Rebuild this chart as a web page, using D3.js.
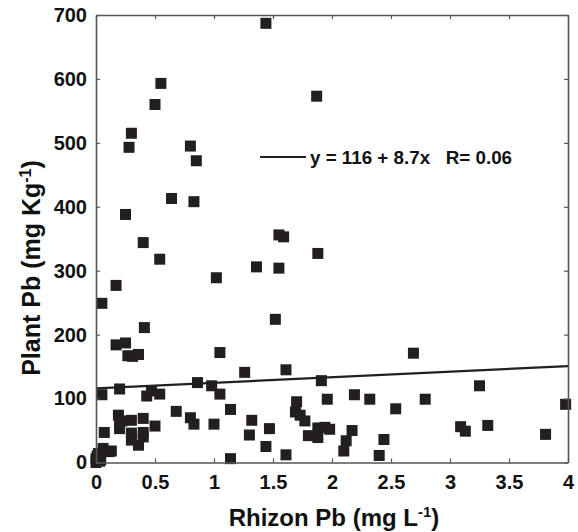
<!DOCTYPE html>
<html><head><meta charset="utf-8">
<script src="https://cdn.jsdelivr.net/npm/d3@7"></script>
<style>body{margin:0;background:#fff}svg{display:block}</style>
</head><body>
<script>
const rhizonPb = [1.44,0.55,0.50,1.87,0.30,0.28,0.80,0.85,0.64,0.83,0.25,0.40,1.55,1.59,0.54,1.88,0.17,1.36,1.55,1.02,
  0.05,1.52,0.41,0.17,0.25,1.05,0.27,0.31,0.36,1.61,1.26,0.86,1.91,0.20,0.98,0.05,0.43,0.47,0.54,1.05,
  1.96,1.70,1.14,0.68,0.19,1.69,1.73,1.77,0.80,0.83,0.22,0.30,0.40,0.20,0.50,1.32,1.00,1.47,0.40,0.40,
  0.30,0.30,0.36,0.07,1.30,1.44,1.61,1.14,1.80,1.88,1.88,1.94,1.98,0.13,2.69,3.25,2.19,2.32,2.79,2.54,
  3.98,2.17,2.12,2.10,2.44,2.40,3.09,3.13,3.32,3.81,0.00,0.02,0.06,0.11,0.00,0.04,0.01,0.03,0.20];
const plantPb = [687,593,560,573,515,493,495,472,413,408,388,344,356,353,318,327,277,306,304,289,
  249,224,211,184,187,172,167,166,169,145,141,125,128,115,120,106,104,112,107,107,
  99,95,83,80,74,79,74,65,70,60,65,66,69,53,57,66,60,53,47,40,
  46,35,27,47,43,25,12,6,42,54,39,55,52,18,171,120,106,99,99,84,
  91,50,34,18,36,11,56,49,58,44,0,14,22,17,6,4,10,2,61];
const xTicks = [0,0.5,1,1.5,2,2.5,3,3.5,4];
const xTickLabels = ["0","0.5","1","1.5","2","2.5","3","3.5","4"];
const yTicks = [0,100,200,300,400,500,600,700];
const fit = {intercept:116, slope:8.7, label:"y = 116 + 8.7x   R= 0.06"};

const W=578,H=532, L=96, R=568, T=15, B=462.5;
const font="'Liberation Sans',Arial,sans-serif";
const svg=d3.select("body").append("svg").attr("width",W).attr("height",H)
  .style("font-family",font).style("font-weight","bold");
const x=d3.scaleLinear().domain([0,4]).range([L,R]);
const y=d3.scaleLinear().domain([0,700]).range([B,T]);
const ink="#231f20";

// points
svg.append("g").selectAll("rect").data(rhizonPb.map((v,i)=>[v,plantPb[i]])).join("rect")
  .attr("x",d=>x(d[0])-5.5).attr("y",d=>y(d[1])-5.5).attr("width",11).attr("height",11).attr("fill",ink);

// regression line
svg.append("line").attr("x1",x(0)).attr("x2",x(4))
  .attr("y1",y(fit.intercept)).attr("y2",y(fit.intercept+fit.slope*4))
  .attr("stroke",ink).attr("stroke-width",2.2);

// axes
const fmt=d=>xTickLabels[xTicks.indexOf(d)];
const gx=svg.append("g").attr("transform",`translate(0,${B})`)
  .call(d3.axisBottom(x).tickValues(xTicks).tickFormat(fmt).tickSizeInner(-4).tickSizeOuter(0).tickPadding(12));
const gxt=svg.append("g").attr("transform",`translate(0,${T})`)
  .call(d3.axisTop(x).tickValues(xTicks).tickFormat("").tickSizeInner(-4).tickSizeOuter(0));
const gy=svg.append("g").attr("transform",`translate(${L},0)`)
  .call(d3.axisLeft(y).tickValues(yTicks).tickSizeInner(-4).tickSizeOuter(0).tickPadding(9));
const gyr=svg.append("g").attr("transform",`translate(${R},0)`)
  .call(d3.axisRight(y).tickValues(yTicks).tickFormat("").tickSizeInner(-4).tickSizeOuter(0));
[gx,gxt,gy,gyr].forEach(g=>{
  g.select(".domain").attr("stroke","#555").attr("stroke-width",1.6);
  g.selectAll(".tick line").attr("stroke","#555").attr("stroke-width",1.2);
  g.selectAll("text").attr("fill","#111").style("font-size","20px").style("font-weight","bold")
   .style("font-family",font);
});

// legend
svg.append("line").attr("x1",260).attr("x2",306).attr("y1",157).attr("y2",157).attr("stroke",ink).attr("stroke-width",2.2);
svg.append("text").attr("x",310).attr("y",164).attr("fill","#111").style("font-size","18.8px")
  .style("white-space","pre").text(fit.label);

// axis titles
const xt=svg.append("text").attr("x",334).attr("y",526).attr("text-anchor","middle").attr("fill","#111").style("font-size","24px");
xt.append("tspan").text("Rhizon Pb (mg L");
xt.append("tspan").attr("dy",-9).style("font-size","15px").text("-1");
xt.append("tspan").attr("dy",9).text(")");
const yt=svg.append("text").attr("transform","translate(40,268) rotate(-90)").attr("text-anchor","middle").attr("fill","#111").style("font-size","25px");
yt.append("tspan").text("Plant Pb (mg Kg");
yt.append("tspan").attr("dy",-9).style("font-size","16px").text("-1");
yt.append("tspan").attr("dy",9).text(")");
</script>
</body></html>
